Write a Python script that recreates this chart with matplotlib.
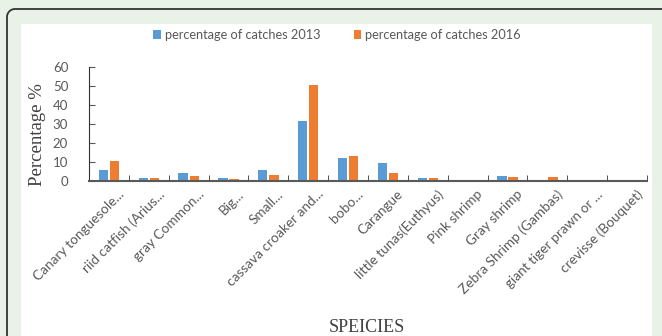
import numpy as np
import matplotlib.pyplot as plt
import matplotlib.transforms as mtransforms
from matplotlib.patches import Rectangle
from matplotlib.lines import Line2D

# species and catch percentages
species = ['Canary tonguesole...', 'riid catfish (Arius...', 'gray Common...', 'Big...',
           'Small...', 'cassava croaker and...', 'bobo...', 'Carangue',
           'little tunas(Euthyus)', 'Pink shrimp', 'Gray shrimp', 'Zebra Shrimp (Gambas)',
           'giant tiger prawn or ...', 'crevisse (Bouquet)']
pct_2013 = [5.8, 1.8, 4.4, 1.7, 5.8, 31.8, 12.3, 9.3, 1.6, 0.0, 2.6, 0.5, 0.5, 0.0]
pct_2016 = [10.3, 1.7, 2.8, 1.2, 3.3, 50.3, 13.3, 4.2, 1.5, 0.7, 2.1, 2.1, 0.6, 0.0]
yticks = [0, 10, 20, 30, 40, 50, 60]

W, H = 662, 336
fig = plt.figure(figsize=(W / 100, H / 100), dpi=100)
fig.patch.set_facecolor('#e8f2e6')

# rounded frame (left/top edges) in pixel coords, then the white panel
r = 8
t = np.linspace(np.pi, np.pi / 2, 20)
fx = np.concatenate([[7], 7 + r + r * np.cos(t), [W + 5]])
fy = np.concatenate([[-5], (H - 9 - r) + r * np.sin(t), [H - 9]])
fig.lines.append(Line2D(fx / W, fy / H, transform=fig.transFigure, color='#333333', lw=1.3))
fig.patches.append(Rectangle((21 / W, 0), (652 - 21) / W, (H - 24) / H,
                             transform=fig.transFigure, fc='white', ec='none', zorder=-1))

ax = fig.add_axes([89 / W, 1 - 181 / H, (647 - 89) / W, (181 - 67) / H])
ax.set_facecolor('none')
ax.set_zorder(2)

x = np.arange(len(species))
bw = 0.23
b1 = ax.bar(x - 0.14, pct_2013, bw, color='#5b9bd5', label='percentage of catches 2013')
b2 = ax.bar(x + 0.14, pct_2016, bw, color='#ed7d31', label='percentage of catches 2016')

ax.set_xlim(-0.5, len(species) - 0.5)
ax.set_ylim(0, 60)
ax.set_yticks(yticks)
ax.tick_params(axis='y', labelsize=9.5, colors='#595959', length=4, direction='in', pad=15)
ax.set_xticks(x)
ax.set_xticklabels(species, rotation=45, ha='right', rotation_mode='anchor',
                   fontsize=9.8, color='#595959', family='Lato')
ax.tick_params(axis='x', length=0, pad=5)
shift = mtransforms.ScaledTranslation(9 / 100, 0, fig.dpi_scale_trans)
for lab in ax.get_xticklabels():
    lab.set_transform(lab.get_transform() + shift)
ax.set_xticks(np.arange(-0.5, len(species)), minor=True)
ax.tick_params(axis='x', which='minor', length=4, direction='in', color='#333333')
for s in ['top', 'right']:
    ax.spines[s].set_visible(False)
ax.spines['left'].set_color('#333333')
ax.spines['bottom'].set_color('#595959')
ax.spines['bottom'].set_linewidth(1.5)
for lab in ax.get_yticklabels():
    lab.set_family('Lato')

fig.text(38 / W, 1 - 135 / H, 'Percentage %', family='Liberation Serif', fontsize=13.5,
         color='#404040', ha='center', va='center', rotation=90)
fig.text(367 / W, 1 - 327 / H, 'SPEICIES', family='Liberation Serif', fontsize=13,
         color='#404040', ha='center', va='center')

fig.legend(handles=[b1, b2], loc='center', bbox_to_anchor=(337 / W, 1 - 35 / H), ncol=2,
           frameon=False, prop={'family': 'Lato', 'size': 9.2}, labelcolor='#595959',
           handlelength=0.6, handleheight=0.6, handletextpad=0.3, columnspacing=2.6)

fig.savefig('out.png', dpi=100)
